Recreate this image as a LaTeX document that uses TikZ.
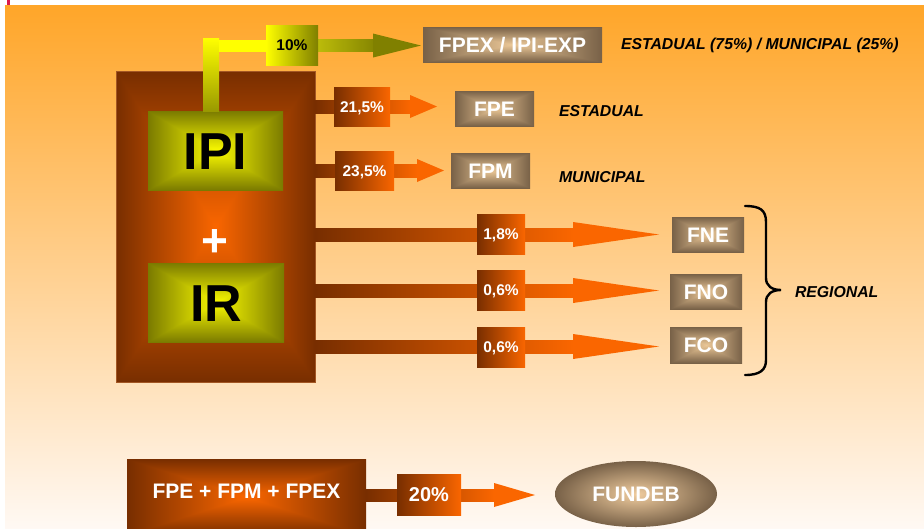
\documentclass[tikz,border=0pt]{standalone}
\usepackage{fontspec}
\setmainfont{Liberation Sans}
\usetikzlibrary{calc,shapes.geometric}

\definecolor{bgtop}{rgb}{1.0,0.65,0.16}
\definecolor{bgbot}{rgb}{1.0,0.975,0.955}
\definecolor{rust}{rgb}{0.47,0.18,0.0}
\definecolor{flame}{rgb}{0.98,0.40,0.0}
\definecolor{rustline}{rgb}{0.64,0.34,0.14}
\definecolor{lemon}{rgb}{1.0,1.0,0.0}
\definecolor{deepolive}{rgb}{0.50,0.50,0.0}
\definecolor{paleolive}{rgb}{0.80,0.80,0.05}
\definecolor{stemolive}{rgb}{0.60,0.60,0.0}
\definecolor{tanedge}{rgb}{0.47,0.38,0.28}
\definecolor{tanmid}{rgb}{0.94,0.80,0.62}
\definecolor{tabmark}{rgb}{0.86,0.10,0.30}

% rectangular (from-centre) gradients: t = max(|x|,|y|)/25, colour = centre + t*(edge-centre)
\pgfdeclarefunctionalshading{emberbox}{\pgfpoint{-50bp}{-50bp}}{\pgfpoint{50bp}{50bp}}{}{%
  abs exch abs 2 copy lt {exch} if pop 25 div dup 1 gt {pop 1} if
  dup -0.51 mul 0.98 add exch
  dup -0.22 mul 0.40 add exch
  0 mul 0.0 add
}
\pgfdeclarefunctionalshading{goldbox}{\pgfpoint{-50bp}{-50bp}}{\pgfpoint{50bp}{50bp}}{}{%
  abs exch abs 2 copy lt {exch} if pop 25 div dup 1 gt {pop 1} if
  dup -0.50 mul 0.98 add exch
  dup -0.50 mul 0.98 add exch
  0 mul 0.0 add
}
\pgfdeclarefunctionalshading{tanbox}{\pgfpoint{-50bp}{-50bp}}{\pgfpoint{50bp}{50bp}}{}{%
  abs exch abs 2 copy lt {exch} if pop 25 div dup 1 gt {pop 1} if
  dup -0.45 mul 0.92 add exch
  dup -0.40 mul 0.78 add exch
  -0.31 mul 0.59 add
}

\tikzset{
  every node/.style={inner sep=0pt, outer sep=0pt},
  taxbox/.style={rectangle, shading=goldbox, text=black,
    font=\bfseries\fontsize{52}{52}\selectfont, text height=37pt, text depth=0pt},
  fundbox/.style={rectangle, shading=tanbox, text=white,
    font=\bfseries\fontsize{21}{21}\selectfont, text height=15pt, text depth=0pt},
  pctbox/.style={rectangle, left color=rust, right color=flame, text=white,
    font=\bfseries\fontsize{15.5}{15.5}\selectfont, text height=11pt, text depth=0pt},
  sidenote/.style={anchor=base west, text=black,
    font=\bfseries\itshape\fontsize{15.8}{15.8}\selectfont},
  shaftshade/.style={left color=rust, right color=flame},
}

% fat arrow: #1 start, #2 tip, #3 shaft half height, #4 head half height,
% #5 head length, #6 shaft shading, #7 head colour
\newcommand\fatarrow[7]{%
  \shade[#6] ($(#1)+(0,-#3)$) rectangle ($(#2)+(-#5,#3)$);
  \fill[#7] ($(#2)+(-#5,-#4)$) -- (#2) -- ($(#2)+(-#5,#4)$) -- cycle;
}

\begin{document}
\begin{tikzpicture}[x=1pt,y=-1pt]
  \useasboundingbox (0,0) rectangle (924,528);
  \fill[white] (0,0) rectangle (924,528);
  \shade[top color=bgtop, bottom color=bgbot] (5,5) rectangle (924,528);
  \fill[tabmark] (7,0) rectangle (9.5,5);

  % source block
  \node[rectangle, shading=emberbox, draw=rustline, line width=0.8pt,
        minimum width=199pt, minimum height=311pt] (outer) at (215.5,226.5) {};
  \node[taxbox, minimum width=135pt, minimum height=79pt] (IPI) at (215.5,150.5) {IPI};
  \node[taxbox, minimum width=136pt, minimum height=79pt] (IR) at (216,302.5) {IR};
  \node[text=white, font=\bfseries\fontsize{46}{46}\selectfont] (plus) at (215,243) {+};

  % destination funds
  \node[fundbox, minimum width=179pt, minimum height=35pt] (FPEX) at (512.5,44.5) {FPEX / IPI-EXP};
  \node[fundbox, minimum width=79pt, minimum height=35pt] (FPE) at (494.5,108.5) {FPE};
  \node[fundbox, minimum width=79pt, minimum height=35pt] (FPM) at (490.5,170.5) {FPM};
  \node[fundbox, minimum width=72pt, minimum height=35pt] (FNE) at (708,234.5) {FNE};
  \node[fundbox, minimum width=72pt, minimum height=35pt] (FNO) at (706,291.5) {FNO};
  \node[fundbox, minimum width=72pt, minimum height=36pt] (FCO) at (706,345) {FCO};

  % side notes
  \node[sidenote] (nEM) at (621,49) {ESTADUAL (75\%) / MUNICIPAL (25\%)};
  \node[sidenote] (nE) at (559,116) {ESTADUAL};
  \node[sidenote] (nM) at (559,182) {MUNICIPAL};
  \node[sidenote] (nR) at (795,297) {REGIONAL};

  % IPI-EXP feed (yellow)
  \shade[top color=lemon, bottom color=stemolive] (203,38) rectangle (219,111);
  \fill[lemon] (219,40) rectangle (268,52);
  \coordinate (tipX) at (421,45.5);
  \coordinate (startX) at (300,45.5);
  \fatarrow{startX}{tipX}{6}{12}{48}{left color=paleolive, right color=deepolive!90!paleolive}{deepolive}
  \node[rectangle, left color=lemon, right color=deepolive, text=black,
        font=\bfseries\fontsize{15.5}{15.5}\selectfont, text height=11pt, text depth=0pt,
        minimum width=52pt, minimum height=40pt] (p10) at (292,45) {10\%};

  % shares from the source block
  \coordinate (tipE) at (437,106.5);
  \coordinate (tipM) at (444,170.5);
  \coordinate (tipNE) at (659,234.5);
  \coordinate (tipNO) at (659,290.5);
  \coordinate (tipCO) at (659,346.5);
  \fatarrow{outer.east |- tipE}{tipE}{6.5}{11.5}{27}{shaftshade}{flame}
  \fatarrow{outer.east |- tipM}{tipM}{6.5}{11.5}{27}{shaftshade}{flame}
  \fatarrow{outer.east |- tipNE}{tipNE}{6.5}{12.5}{86}{shaftshade}{flame}
  \fatarrow{outer.east |- tipNO}{tipNO}{6.5}{12.5}{86}{shaftshade}{flame}
  \fatarrow{outer.east |- tipCO}{tipCO}{6.5}{12.5}{86}{shaftshade}{flame}
  \node[pctbox, minimum width=56pt, minimum height=39pt] (p215) at (362,106.5) {21,5\%};
  \node[pctbox, minimum width=59pt, minimum height=39pt] (p235) at (364.5,170.5) {23,5\%};
  \node[pctbox, minimum width=48pt, minimum height=40pt] (p18) at (501,234) {1,8\%};
  \node[pctbox, minimum width=48pt, minimum height=40pt] (p06a) at (501,290) {0,6\%};
  \node[pctbox, minimum width=48pt, minimum height=40pt] (p06b) at (501,347) {0,6\%};

  % regional brace
  \draw[line width=2.4pt, line cap=round]
    (745,206) .. controls (760,206) and (766,210) .. (766,222)
    -- (766,278) .. controls (766,286) and (772,290) .. (781,290)
    .. controls (772,290) and (766,294) .. (766,302)
    -- (766,360) .. controls (766,370) and (760,375) .. (745,375);

  % FUNDEB contribution
  \node[rectangle, shading=emberbox, minimum width=239pt, minimum height=76pt] (sum) at (246.5,497) {};
  \node[text=white, font=\bfseries\fontsize{21}{21}\selectfont] (sumtxt) at (246.5,491) {FPE + FPM + FPEX};
  \node[ellipse, shading=radial, inner color=tanmid, outer color=tanedge,
        minimum width=162pt, minimum height=66pt, text=white,
        font=\bfseries\fontsize{21}{21}\selectfont, text height=15pt, text depth=0pt]
        (FUNDEB) at (636,494) {FUNDEB};
  \coordinate (tipF) at (535,495);
  \fatarrow{sum.east |- tipF}{tipF}{6}{12}{41}{shaftshade}{flame}
  \node[pctbox, font=\bfseries\fontsize{20}{20}\selectfont, text height=14.5pt,
        minimum width=64pt, minimum height=41pt] (p20) at (429,494.5) {20\%};
\end{tikzpicture}
\end{document}
